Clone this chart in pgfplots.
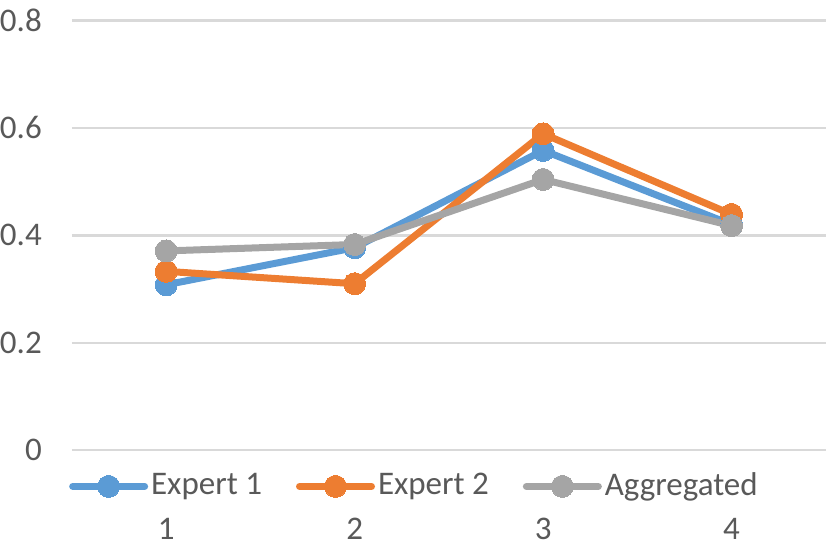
\documentclass[border=0pt]{standalone}
\usepackage{pgfplots}
\pgfplotsset{compat=1.18}
\usepackage{fontspec}
\setmainfont{Carlito}
\definecolor{txt}{HTML}{595959}
\definecolor{gridc}{HTML}{D9D9D9}
\definecolor{eone}{HTML}{5B9BD5}
\definecolor{etwo}{HTML}{ED7D31}
\definecolor{agg}{HTML}{A5A5A5}
\begin{document}
\fontsize{33}{39}\selectfont
\begin{tikzpicture}
\begin{axis}[
    scale only axis,
    width=754pt, height=430pt,
    xmin=0.5, xmax=4.5,
    ymin=0, ymax=0.8,
    xtick={1,2,3,4},
    ytick={0,0.2,0.4,0.6,0.8},
    ymajorgrids=true,
    grid style={line width=2.4pt, draw=gridc},
    axis line style={draw=none},
    major tick style={draw=none},
    tick label style={font=\fontsize{33}{39}\selectfont, text=txt},
    /pgf/number format/assume math mode=true,
    xticklabel style={inner ysep=10pt, yshift=-58pt},
    yticklabel style={inner xsep=0pt, inner ysep=9pt, xshift=-30pt},
    legend style={at={(0,0)}, anchor=north west, yshift=-20pt, xshift=-3pt,
        draw=none, fill=none, legend columns=-1,
        font=\fontsize{33}{39}\selectfont, text=txt,
        /tikz/every even column/.append style={column sep=31pt},
        /tikz/every node/.append style={inner xsep=3pt},
        inner sep=0pt},
    legend image code/.code={
        \draw[#1, mark repeat=2, mark phase=2] plot coordinates {(0pt,0pt) (36pt,0pt) (72pt,0pt)};
    },
    every axis plot/.append style={line width=7pt, mark=*, mark size=11pt, line join=round, line cap=round},
]
\addplot[color=eone, mark options={fill=eone, draw=eone, line width=0pt}] coordinates {
    (1,0.308) (2,0.377) (3,0.558) (4,0.420)
};
\addlegendentry{Expert 1}
\addplot[color=etwo, mark options={fill=etwo, draw=etwo, line width=0pt}] coordinates {
    (1,0.333) (2,0.310) (3,0.589) (4,0.439)
};
\addlegendentry{Expert 2}
\addplot[color=agg, mark options={fill=agg, draw=agg, line width=0pt}] coordinates {
    (1,0.371) (2,0.383) (3,0.504) (4,0.418)
};
\addlegendentry{Aggregated}
\end{axis}
\end{tikzpicture}
\end{document}
